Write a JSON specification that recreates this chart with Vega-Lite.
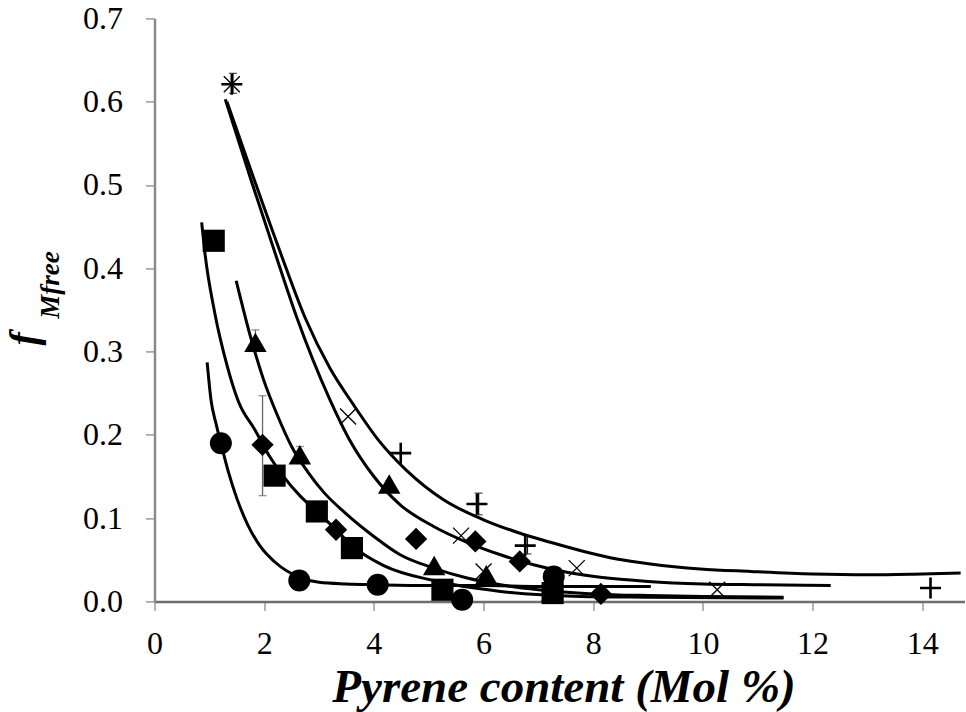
{
  "$schema": "https://vega.github.io/schema/vega-lite/v6.json",
  "autosize": "none",
  "width": 810,
  "height": 583,
  "padding": {"left": 154.5, "top": 18.4, "right": 1.5, "bottom": 110.6},
  "background": "white",
  "config": {
    "view": {"stroke": null},
    "font": "Liberation Serif",
    "axis": {"labelFont": "Liberation Serif", "titleFont": "Liberation Serif", "grid": false}
  },
  "datasets": {
    "points": [
      {"series": "circle", "x": 1.21, "y": 0.190},
      {"series": "circle", "x": 2.64, "y": 0.025},
      {"series": "circle", "x": 4.07, "y": 0.020},
      {"series": "circle", "x": 5.61, "y": 0.002},
      {"series": "circle", "x": 7.28, "y": 0.030},
      {"series": "square", "x": 1.08, "y": 0.433},
      {"series": "square", "x": 2.19, "y": 0.151},
      {"series": "square", "x": 2.96, "y": 0.108},
      {"series": "square", "x": 3.60, "y": 0.064},
      {"series": "square", "x": 5.25, "y": 0.014},
      {"series": "square", "x": 7.26, "y": 0.010},
      {"series": "diamond", "x": 1.97, "y": 0.188},
      {"series": "diamond", "x": 3.31, "y": 0.086},
      {"series": "diamond", "x": 4.77, "y": 0.075},
      {"series": "diamond", "x": 5.85, "y": 0.072},
      {"series": "diamond", "x": 6.66, "y": 0.048},
      {"series": "diamond", "x": 8.14, "y": 0.009},
      {"series": "triangle", "x": 1.84, "y": 0.311},
      {"series": "triangle", "x": 2.65, "y": 0.176},
      {"series": "triangle", "x": 4.28, "y": 0.141},
      {"series": "triangle", "x": 5.10, "y": 0.043},
      {"series": "triangle", "x": 6.05, "y": 0.032},
      {"series": "triangle", "x": 7.25, "y": 0.012}
    ],
    "crosses": [
      {"x": 1.41, "y": 0.621},
      {"x": 3.53, "y": 0.222},
      {"x": 5.59, "y": 0.079},
      {"x": 6.00, "y": 0.036},
      {"x": 7.70, "y": 0.040},
      {"x": 10.26, "y": 0.014}
    ],
    "pluses": [
      {"x": 1.41, "y": 0.621},
      {"x": 4.49, "y": 0.178},
      {"x": 5.88, "y": 0.117},
      {"x": 6.76, "y": 0.067},
      {"x": 14.15, "y": 0.016}
    ],
    "errors": [
      {"x": 1.97, "lo": 0.127, "hi": 0.247, "kind": "grey"},
      {"x": 1.84, "lo": 0.300, "hi": 0.326, "kind": "grey"},
      {"x": 2.65, "lo": 0.166, "hi": 0.186, "kind": "grey"},
      {"x": 1.43, "lo": 0.610, "hi": 0.634, "kind": "black"},
      {"x": 5.91, "lo": 0.104, "hi": 0.130, "kind": "black"},
      {"x": 6.80, "lo": 0.057, "hi": 0.079, "kind": "black"}
    ],
    "curves": [
      {"curve": "c1", "x": 0.96, "y": 0.287},
      {"curve": "c1", "x": 1.03, "y": 0.242},
      {"curve": "c1", "x": 1.12, "y": 0.214},
      {"curve": "c1", "x": 1.21, "y": 0.190},
      {"curve": "c1", "x": 1.35, "y": 0.155},
      {"curve": "c1", "x": 1.50, "y": 0.124},
      {"curve": "c1", "x": 1.70, "y": 0.092},
      {"curve": "c1", "x": 1.93, "y": 0.066},
      {"curve": "c1", "x": 2.20, "y": 0.047},
      {"curve": "c1", "x": 2.64, "y": 0.029},
      {"curve": "c1", "x": 3.00, "y": 0.023},
      {"curve": "c1", "x": 3.50, "y": 0.021},
      {"curve": "c1", "x": 4.07, "y": 0.020},
      {"curve": "c1", "x": 5.00, "y": 0.019},
      {"curve": "c1", "x": 6.00, "y": 0.019},
      {"curve": "c1", "x": 7.00, "y": 0.018},
      {"curve": "c1", "x": 8.00, "y": 0.018},
      {"curve": "c1", "x": 9.05, "y": 0.018},
      {"curve": "c2", "x": 0.86, "y": 0.455},
      {"curve": "c2", "x": 0.92, "y": 0.418},
      {"curve": "c2", "x": 1.10, "y": 0.346},
      {"curve": "c2", "x": 1.32, "y": 0.284},
      {"curve": "c2", "x": 1.53, "y": 0.240},
      {"curve": "c2", "x": 1.83, "y": 0.206},
      {"curve": "c2", "x": 2.10, "y": 0.174},
      {"curve": "c2", "x": 2.35, "y": 0.150},
      {"curve": "c2", "x": 2.65, "y": 0.127},
      {"curve": "c2", "x": 2.96, "y": 0.108},
      {"curve": "c2", "x": 3.31, "y": 0.086},
      {"curve": "c2", "x": 3.60, "y": 0.067},
      {"curve": "c2", "x": 4.18, "y": 0.043},
      {"curve": "c2", "x": 5.09, "y": 0.025},
      {"curve": "c2", "x": 6.31, "y": 0.012},
      {"curve": "c2", "x": 7.77, "y": 0.006},
      {"curve": "c2", "x": 9.00, "y": 0.005},
      {"curve": "c2", "x": 11.47, "y": 0.004},
      {"curve": "c3", "x": 1.49, "y": 0.385},
      {"curve": "c3", "x": 1.75, "y": 0.318},
      {"curve": "c3", "x": 1.99, "y": 0.266},
      {"curve": "c3", "x": 2.25, "y": 0.222},
      {"curve": "c3", "x": 2.50, "y": 0.186},
      {"curve": "c3", "x": 2.80, "y": 0.155},
      {"curve": "c3", "x": 3.10, "y": 0.130},
      {"curve": "c3", "x": 3.48, "y": 0.106},
      {"curve": "c3", "x": 4.00, "y": 0.078},
      {"curve": "c3", "x": 4.48, "y": 0.056},
      {"curve": "c3", "x": 5.09, "y": 0.040},
      {"curve": "c3", "x": 5.70, "y": 0.028},
      {"curve": "c3", "x": 6.31, "y": 0.020},
      {"curve": "c3", "x": 7.00, "y": 0.014},
      {"curve": "c3", "x": 8.00, "y": 0.009},
      {"curve": "c3", "x": 9.00, "y": 0.007},
      {"curve": "c3", "x": 10.00, "y": 0.006},
      {"curve": "c3", "x": 11.47, "y": 0.005},
      {"curve": "c4", "x": 1.29, "y": 0.603},
      {"curve": "c4", "x": 1.76, "y": 0.506},
      {"curve": "c4", "x": 2.20, "y": 0.418},
      {"curve": "c4", "x": 2.60, "y": 0.340},
      {"curve": "c4", "x": 3.20, "y": 0.242},
      {"curve": "c4", "x": 3.54, "y": 0.196},
      {"curve": "c4", "x": 4.00, "y": 0.150},
      {"curve": "c4", "x": 4.48, "y": 0.116},
      {"curve": "c4", "x": 5.09, "y": 0.090},
      {"curve": "c4", "x": 5.70, "y": 0.071},
      {"curve": "c4", "x": 6.31, "y": 0.056},
      {"curve": "c4", "x": 6.91, "y": 0.044},
      {"curve": "c4", "x": 7.52, "y": 0.035},
      {"curve": "c4", "x": 8.13, "y": 0.029},
      {"curve": "c4", "x": 9.00, "y": 0.024},
      {"curve": "c4", "x": 10.00, "y": 0.021},
      {"curve": "c4", "x": 11.00, "y": 0.020},
      {"curve": "c4", "x": 12.33, "y": 0.019},
      {"curve": "c5", "x": 1.32, "y": 0.600},
      {"curve": "c5", "x": 1.82, "y": 0.506},
      {"curve": "c5", "x": 2.30, "y": 0.418},
      {"curve": "c5", "x": 2.75, "y": 0.340},
      {"curve": "c5", "x": 3.20, "y": 0.280},
      {"curve": "c5", "x": 3.63, "y": 0.236},
      {"curve": "c5", "x": 4.08, "y": 0.194},
      {"curve": "c5", "x": 4.60, "y": 0.157},
      {"curve": "c5", "x": 5.27, "y": 0.122},
      {"curve": "c5", "x": 6.00, "y": 0.098},
      {"curve": "c5", "x": 6.61, "y": 0.083},
      {"curve": "c5", "x": 7.22, "y": 0.071},
      {"curve": "c5", "x": 7.83, "y": 0.060},
      {"curve": "c5", "x": 8.43, "y": 0.051},
      {"curve": "c5", "x": 9.04, "y": 0.045},
      {"curve": "c5", "x": 9.95, "y": 0.039},
      {"curve": "c5", "x": 10.87, "y": 0.036},
      {"curve": "c5", "x": 12.00, "y": 0.033},
      {"curve": "c5", "x": 13.00, "y": 0.032},
      {"curve": "c5", "x": 14.00, "y": 0.033},
      {"curve": "c5", "x": 14.70, "y": 0.034}
    ]
  },
  "resolve": {"axis": {"y": "independent"}},
  "layer": [
    {
      "mark": {"type": "rule", "color": "black", "strokeWidth": 2.5},
      "encoding": {
        "y": {"datum": 0.7, "type": "quantitative", "scale": {"domain": [0, 0.7], "nice": false}, "axis": null}
      }
    },
    {
      "data": {"name": "curves"},
      "mark": {"type": "line", "color": "black", "strokeWidth": 3, "interpolate": "monotone"},
      "encoding": {
        "x": {
          "field": "x", "type": "quantitative",
          "scale": {"domain": [0, 14.77], "nice": false, "zero": false},
          "axis": {
            "values": [0, 2, 4, 6, 8, 10, 12, 14],
            "format": "d",
            "title": "Pyrene content (Mol %)",
            "titleFontSize": 47,
            "titleFontWeight": "bold",
            "titleFontStyle": "italic",
            "titleColor": "black",
            "titleBaseline": "alphabetic",
            "titleAlign": "center",
            "titleX": 409,
            "titleY": 100,
            "labelFontSize": 32,
            "labelColor": "black",
            "labelPadding": 18,
            "labelFlush": false,
            "labelOverlap": false,
            "domainColor": "#6e6e6e",
            "domainWidth": 2.5,
            "tickColor": "#9a9a9a",
            "tickWidth": 1.5,
            "tickSize": 9
          }
        },
        "y": {
          "field": "y", "type": "quantitative",
          "scale": {"domain": [0, 0.7], "nice": false},
          "axis": {
            "orient": "left",
            "values": [0, 0.1, 0.2, 0.3, 0.4, 0.5, 0.6, 0.7],
            "format": ".1f",
            "title": "f",
            "titleFontSize": 40,
            "titleFontWeight": "bold",
            "titleFontStyle": "italic",
            "titleColor": "black",
            "titleAngle": -90,
            "titleBaseline": "alphabetic",
            "titleAlign": "center",
            "titleX": -118,
            "titleY": 320,
            "labelFontSize": 32,
            "labelColor": "black",
            "labelPadding": 23,
            "labelFlush": false,
            "labelOverlap": false,
            "domainColor": "#8a8a8a",
            "domainWidth": 2.5,
            "tickColor": "#9a9a9a",
            "tickWidth": 1.5,
            "tickSize": 9
          }
        },
        "detail": {"field": "curve"}
      }
    },
    {
      "data": {"name": "errors"},
      "mark": {"type": "rule", "strokeWidth": 1.3},
      "encoding": {
        "x": {"field": "x", "type": "quantitative"},
        "y": {"field": "lo", "type": "quantitative", "axis": null},
        "y2": {"field": "hi"},
        "color": {"field": "kind", "type": "nominal", "scale": {"domain": ["grey", "black"], "range": ["#666666", "#111111"]}, "legend": null}
      }
    },
    {
      "data": {"name": "errors"},
      "mark": {"type": "tick", "orient": "horizontal", "size": 8, "thickness": 1.3},
      "encoding": {
        "x": {"field": "x", "type": "quantitative"},
        "y": {"field": "lo", "type": "quantitative", "axis": null},
        "color": {"field": "kind", "type": "nominal", "legend": null}
      }
    },
    {
      "data": {"name": "errors"},
      "mark": {"type": "tick", "orient": "horizontal", "size": 8, "thickness": 1.3},
      "encoding": {
        "x": {"field": "x", "type": "quantitative"},
        "y": {"field": "hi", "type": "quantitative", "axis": null},
        "color": {"field": "kind", "type": "nominal", "legend": null}
      }
    },
    {
      "data": {"name": "points"},
      "mark": {"type": "point", "filled": true, "opacity": 1, "color": "black"},
      "encoding": {
        "x": {"field": "x", "type": "quantitative"},
        "y": {
          "field": "y", "type": "quantitative",
          "axis": {
            "orient": "left",
            "title": "Mfree",
            "titleFontSize": 27,
            "titleFontWeight": "bold",
            "titleFontStyle": "italic",
            "titleColor": "black",
            "titleAngle": -90,
            "titleBaseline": "alphabetic",
            "titleAlign": "center",
            "titleX": -96,
            "titleY": 266,
            "labels": false,
            "ticks": false,
            "domain": false
          }
        },
        "shape": {
          "field": "series", "type": "nominal",
          "scale": {"domain": ["circle", "square", "diamond", "triangle"], "range": ["circle", "square", "diamond", "triangle-up"]},
          "legend": null
        },
        "size": {
          "field": "series", "type": "nominal",
          "scale": {"domain": ["circle", "square", "diamond", "triangle"], "range": [484, 505, 430, 460]},
          "legend": null
        }
      }
    },
    {
      "data": {"name": "crosses"},
      "mark": {"type": "point", "shape": "M-1,-1L1,1M-1,1L1,-1", "filled": false, "stroke": "black", "strokeWidth": 1.3, "size": 256, "opacity": 1},
      "encoding": {
        "x": {"field": "x", "type": "quantitative"},
        "y": {"field": "y", "type": "quantitative", "axis": null}
      }
    },
    {
      "data": {"name": "pluses"},
      "mark": {"type": "point", "shape": "M-1,0H1M0,-1V1", "filled": false, "stroke": "black", "strokeWidth": 2.6, "size": 440, "opacity": 1},
      "encoding": {
        "x": {"field": "x", "type": "quantitative"},
        "y": {"field": "y", "type": "quantitative", "axis": null}
      }
    }
  ]
}
